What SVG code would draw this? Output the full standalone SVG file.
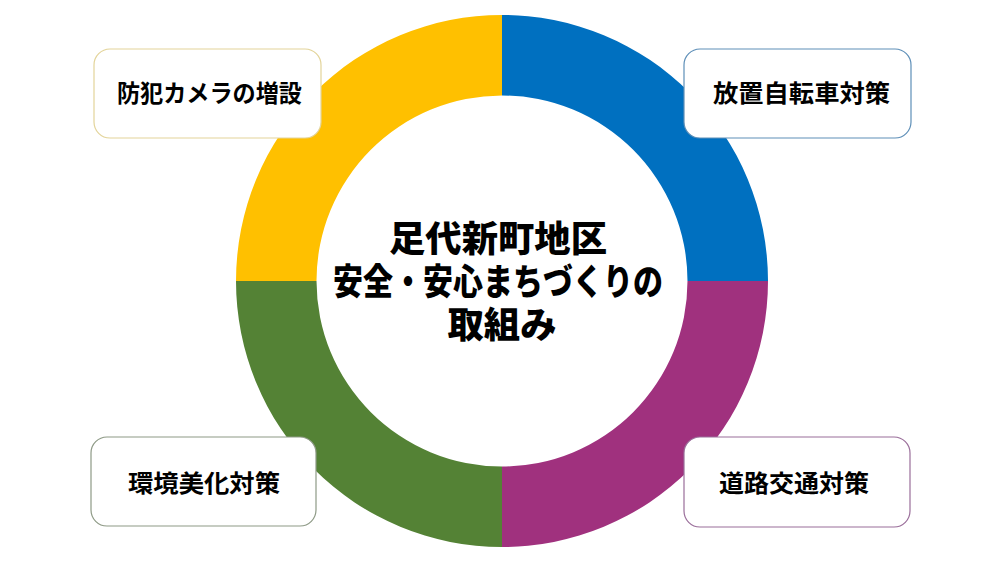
<svg xmlns="http://www.w3.org/2000/svg" width="1000" height="562" viewBox="0 0 1000 562">
<style>
.box{fill:#ffffff;stroke-width:1.2}
.lbl{font-family:"Noto Sans CJK JP","Noto Sans CJK SC",sans-serif;font-weight:bold;font-size:24px;fill:#000;text-anchor:middle}
.ctr{font-family:"Noto Sans CJK JP","Noto Sans CJK SC",sans-serif;font-weight:900;font-size:36px;fill:#000;text-anchor:middle}
</style>
<rect width="1000" height="562" fill="#ffffff"/>
<g id="ring">
<path id="seg-yellow" d="M 236 281 A 266 266 0 0 1 502 15 L 502 95.5 A 185.5 185.5 0 0 0 316.5 281 Z" fill="#FFC000"/>
<path id="seg-blue" d="M 502 15 A 266 266 0 0 1 768 281 L 687.5 281 A 185.5 185.5 0 0 0 502 95.5 Z" fill="#0070C0"/>
<path id="seg-purple" d="M 768 281 A 266 266 0 0 1 502 547 L 502 466.5 A 185.5 185.5 0 0 0 687.5 281 Z" fill="#A0317E"/>
<path id="seg-green" d="M 502 547 A 266 266 0 0 1 236 281 L 316.5 281 A 185.5 185.5 0 0 0 502 466.5 Z" fill="#548235"/>
</g>
<g id="center">
<text class="ctr"><tspan x="498" y="252" textLength="218" lengthAdjust="spacingAndGlyphs">足代新町地区</tspan><tspan x="498" y="295" textLength="330" lengthAdjust="spacingAndGlyphs">安全・安心まちづくりの</tspan><tspan x="502" y="338" textLength="109" lengthAdjust="spacingAndGlyphs">取組み</tspan></text>
</g>
<g id="connectors"></g>
<g id="node-camera">
<rect class="box" x="94" y="49" width="227" height="89" rx="16" stroke="#E3D49A"/>
<text class="lbl" x="209.5" y="102" textLength="185" lengthAdjust="spacingAndGlyphs">防犯カメラの増設</text>
</g>
<g id="node-bicycle">
<rect class="box" x="684" y="49" width="227" height="89" rx="16" stroke="#5E8FB8"/>
<text class="lbl" x="801.5" y="102" textLength="177" lengthAdjust="spacingAndGlyphs">放置自転車対策</text>
</g>
<g id="node-environment">
<rect class="box" x="91" y="437" width="225" height="89" rx="16" stroke="#8E9A86"/>
<text class="lbl" x="204" y="492" textLength="152" lengthAdjust="spacingAndGlyphs">環境美化対策</text>
</g>
<g id="node-traffic">
<rect class="box" x="684" y="437" width="226" height="90" rx="16" stroke="#9A6E9A"/>
<text class="lbl" x="794" y="492" textLength="150" lengthAdjust="spacingAndGlyphs">道路交通対策</text>
</g>
</svg>
